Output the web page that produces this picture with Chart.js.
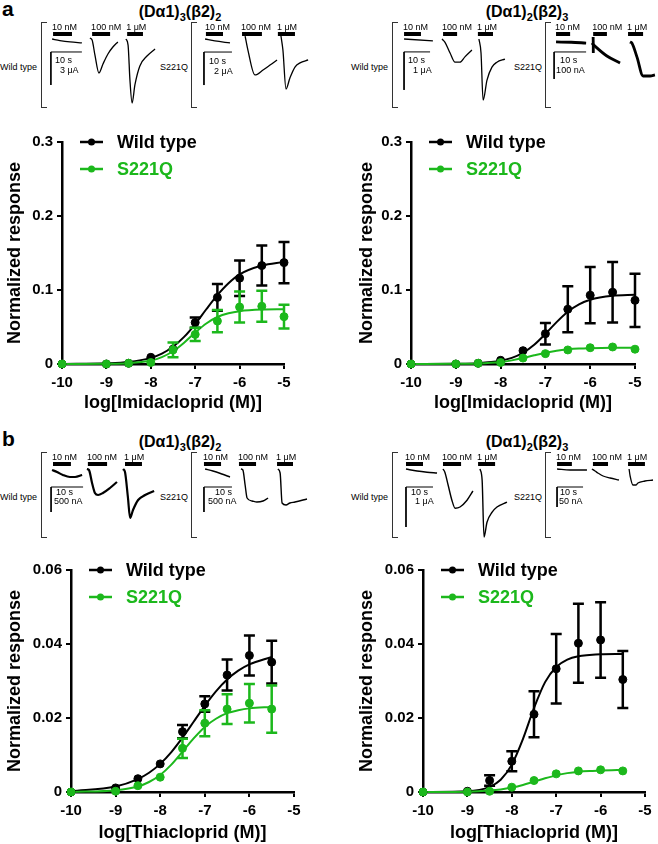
<!DOCTYPE html>
<html>
<head>
<meta charset="utf-8">
<script src="https://cdn.jsdelivr.net/npm/chart.js@4.4.1/dist/chart.umd.min.js"></script>
<style>
  body { margin: 0; width: 658px; height: 844px; position: relative; background: #fff; overflow: hidden;
         font-family: "Liberation Sans", Arial, sans-serif; color: #000; }
  .txt { position: absolute; white-space: nowrap; }
  .panel { font-weight: bold; font-size: 21px; line-height: 22px; }
  .title { font-weight: bold; font-size: 16px; line-height: 18px; width: 200px; text-align: center; }
  .title .sb { font-size: 11px; position: relative; top: 4px; }
  .grp { font-size: 9px; line-height: 12px; width: 60px; text-align: right; }
  .brk { position: absolute; width: 6px; height: 86px; box-sizing: border-box;
         border: 1px solid #333; border-right: none; }
</style>
</head>
<body>
<div class="txt panel" style="left:2px;top:-2px">a</div>
<div class="txt panel" style="left:2px;top:428px">b</div>
<div class="txt title" style="left:80px;top:3px">(Dα1)<span class="sb">3</span>(β2)<span class="sb">2</span></div>
<div class="txt title" style="left:427px;top:3px">(Dα1)<span class="sb">2</span>(β2)<span class="sb">3</span></div>
<div class="txt title" style="left:80px;top:433px">(Dα1)<span class="sb">3</span>(β2)<span class="sb">2</span></div>
<div class="txt title" style="left:427px;top:433px">(Dα1)<span class="sb">2</span>(β2)<span class="sb">3</span></div>

<script>
// dose-response data, log molar concentration
const FONT = '"Liberation Sans", Arial, sans-serif';
const BLACK = "#000000";
const GREEN = "#1cb81c";
const WT_LABEL = "Wild type";
const MUT_LABEL = "S221Q";

// a: imidacloprid
const imiDose = [-10, -9, -8.5, -8, -7.5, -7, -6.5, -6, -5.5, -5];
const imi32Wt = [0, 0, 0.001, 0.009, 0.020, 0.056, 0.090, 0.116, 0.133, 0.137];
const imi32WtErr = [0, 0, 0, 0.001, 0.002, 0.007, 0.018, 0.024, 0.027, 0.028];
const imi32Mut = [0, 0, 0.001, 0.002, 0.019, 0.040, 0.058, 0.077, 0.078, 0.064];
const imi32MutErr = [0, 0, 0, 0.001, 0.010, 0.009, 0.015, 0.021, 0.021, 0.016];
const imi23Wt = [0, 0, 0.001, 0.005, 0.018, 0.041, 0.074, 0.093, 0.097, 0.086];
const imi23WtErr = [0, 0, 0, 0.001, 0.002, 0.0145, 0.031, 0.038, 0.041, 0.036];
const imi23Mut = [0, 0, 0.001, 0.002, 0.008, 0.014, 0.019, 0.022, 0.023, 0.020];
const imi23MutErr = [0, 0, 0, 0, 0.001, 0.001, 0.001, 0.001, 0.001, 0.001];

// fitted curves
const imiFitX = [-10, -9, -8.5, -8, -7.75, -7.5, -7.25, -7, -6.75, -6.5, -6.25, -6, -5.5, -5];
const imi32WtFit = [0.0001, 0.0009, 0.0027, 0.0083, 0.0141, 0.0233, 0.0366, 0.054, 0.074, 0.093, 0.109, 0.121, 0.133, 0.138];
const imi32MutFit = [0, 0.0003, 0.0011, 0.0047, 0.0093, 0.0172, 0.0288, 0.0425, 0.0548, 0.0635, 0.0686, 0.0714, 0.0735, 0.0739];
const imi23WtFit = [0, 0.0003, 0.0011, 0.0043, 0.0082, 0.015, 0.0259, 0.0406, 0.0566, 0.0706, 0.0806, 0.0868, 0.0921, 0.0935];
const imi23MutFit = [0, 0.0002, 0.0008, 0.0028, 0.0049, 0.008, 0.0118, 0.0153, 0.018, 0.0198, 0.0209, 0.0214, 0.0219, 0.022];

// b: thiacloprid
const thiDose = [-10, -9, -8.5, -8, -7.5, -7, -6.5, -6, -5.5];
const thi32Wt = [0, 0.0011, 0.0036, 0.0076, 0.0163, 0.0238, 0.0316, 0.0369, 0.0351];
const thi32WtErr = [0, 0.0003, 0.0004, 0.0006, 0.0018, 0.0021, 0.0042, 0.0054, 0.0058];
const thi32Mut = [0, 0.0002, 0.0017, 0.0040, 0.0118, 0.0186, 0.0224, 0.0240, 0.0224];
const thi32MutErr = [0, 0.0002, 0.0003, 0.0011, 0.0026, 0.0035, 0.0040, 0.0052, 0.0064];
const thi23Wt = [0, 0.0002, 0.0031, 0.0083, 0.0210, 0.0333, 0.0402, 0.0411, 0.0304];
const thi23WtErr = [0, 0, 0.0014, 0.0027, 0.0062, 0.0094, 0.0107, 0.0102, 0.0077];
const thi23Mut = [0, 0, 0.0002, 0.0013, 0.0031, 0.0049, 0.0057, 0.0060, 0.0057];
const thi23MutErr = [0, 0, 0, 0.0002, 0.0002, 0.0002, 0.0002, 0.0002, 0.0002];

const thiFitX = [-10, -9, -8.5, -8.25, -8, -7.75, -7.5, -7.25, -7, -6.75, -6.5, -6.25, -6, -5.5];
const thi32WtFit = [0.0002, 0.0015, 0.0035, 0.0052, 0.0076, 0.0108, 0.0147, 0.019, 0.0233, 0.0272, 0.0304, 0.0328, 0.0345, 0.0365];
const thi32MutFit = [0, 0.0005, 0.0015, 0.0027, 0.0046, 0.0074, 0.0109, 0.0145, 0.0176, 0.0198, 0.0213, 0.0221, 0.0226, 0.023];
const thi23WtFit = [0, 0.0002, 0.0014, 0.0033, 0.0074, 0.0143, 0.0227, 0.0297, 0.0338, 0.0358, 0.0367, 0.037, 0.0372, 0.0373];
const thi23MutFit = [0, 0.0001, 0.0004, 0.0007, 0.0012, 0.0019, 0.0028, 0.0037, 0.0045, 0.0051, 0.0055, 0.0057, 0.0058, 0.006];

// current traces: [time (s), current] per concentration
const concLabels = ["10 nM", "100 nM", "1 μM"];
const trA1 = [
  [[2.3, 0], [4.8, -0.14], [8.1, -0.27], [11.9, -0.36]],
  [[14.5, 0.09], [15.2, -0.09], [16.1, -1.45], [17.4, -3.09], [18.7, -2.27], [20.3, -1.36], [21.9, -0.73], [23.5, -0.27]],
  [[26.1, 0], [26.8, -0.55], [27.4, -3.73], [28.1, -5.82], [29.0, -4.18], [30.6, -2.45], [32.9, -1.55], [35.5, -0.91]],
];
const trA2 = [
  [[3.6, 0], [7.1, -0.12], [12.5, -0.24]],
  [[17.9, 0.18], [18.9, -0.67], [21.4, -2.18], [24.3, -1.88], [26.8, -1.58], [29.3, -1.27]],
  [[30.7, 0.18], [31.4, -0.67], [32.5, -3.03], [33.9, -2.36], [35.7, -1.7], [37.5, -1.45], [40.4, -1.27]],
];
const trA3 = [
  [[3.1, 0], [14.2, -0.05]],
  [[17.7, 0], [18.8, -0.08], [20.8, -0.37], [22.7, -0.61], [24.6, -0.61], [26.5, -0.47], [29.2, -0.29]],
  [[31.9, 0], [32.7, -0.37], [33.5, -1.61], [35.0, -1.08], [36.9, -0.74], [38.8, -0.61], [41.9, -0.53]],
];
const trA4 = [
  [[2.2, -11], [6.9, -12], [11.6, -15]],
  [[13.4, -15], [14.7, -30], [18.1, -63], [22.2, -89]],
  [[13.8, 7], [13.85, -52]],
  [[25.3, -11], [25.9, -15], [27.5, -67], [29.4, -137], [31.6, -137], [33.1, -133]],
];
const trB1 = [
  [[2.2, -20], [3.75, -60], [5.6, -120], [7.8, -160], [9.4, -160], [11.6, -120]],
  [[13.1, 0], [13.75, -20], [14.7, -280], [15.6, -480], [16.6, -520], [18.1, -480], [20.3, -380], [22.5, -260]],
  [[24.4, 0], [25, -60], [25.9, -560], [26.6, -980], [27.5, -820], [29.1, -620], [31.3, -520], [34.1, -440]],
];
const trB2 = [
  [[3.6, 0], [6.4, -40], [9.6, -100], [12.5, -160]],
  [[16.4, 0], [17.1, -20], [17.9, -320], [18.6, -580], [20.4, -640], [22.1, -660], [24.3, -640], [26.1, -580]],
  [[29.6, 0], [30.4, -80], [31.1, -680], [32.5, -720], [33.9, -680], [35.7, -660], [40.0, -600]],
];
const trB3 = [
  [[3.7, 0], [7.8, -0.05], [11.5, -0.08], [15.2, -0.1]],
  [[17.4, 0], [18.1, -0.08], [19.3, -0.4], [20.7, -0.78], [21.9, -0.98], [23.7, -0.95], [26.3, -0.78], [28.5, -0.55]],
  [[31.1, 0], [31.9, -0.28], [32.6, -1.7], [33.7, -1.33], [35.6, -1.08], [37.4, -0.95], [41.1, -0.83]],
];
const trB4 = [
  [[3.1, 0], [8.1, -2.5], [14.6, -2.5]],
  [[16.5, 0], [17.7, -5], [18.8, -10], [20.8, -17.5], [23.5, -22.5], [26.9, -27.5]],
  [[30.8, 0], [31.2, -17.5], [32.3, -40], [33.5, -40], [34.2, -35], [36.9, -30], [40.0, -27.5]],
];
// drug application bars (s)
const barsA1 = [[2.6, 8.7], [15.2, 21.0], [26.5, 31.6]];
const barsA2 = [[3.9, 10.0], [16.8, 23.9], [29.6, 35.7]];
const barsA3 = [[3.1, 9.6], [18.1, 23.5], [31.5, 37.3]];
const barsA4 = [[2.2, 6.6], [13.8, 18.1], [24.7, 29.4]];
const barsB1 = [[2.5, 8.1], [13.4, 19.4], [25.0, 30.3]];
const barsB2 = [[3.2, 9.3], [15.7, 21.8], [29.3, 35.0]];
const barsB3 = [[3.7, 10.0], [17.4, 24.1], [30.4, 36.7]];
const barsB4 = [[3.1, 8.8], [16.9, 22.7], [30.4, 36.9]];

Chart.defaults.font.family = FONT;

function makeCanvas(l, t, w, h) {
  const c = document.createElement("canvas");
  c.width = w; c.height = h;
  c.style.cssText = `position:absolute;left:${l}px;top:${t}px;width:${w}px;height:${h}px`;
  document.body.appendChild(c);
  return c;
}

function addText(html, cls, l, t) {
  const d = document.createElement("div");
  d.className = "txt " + cls;
  d.style.left = l + "px"; d.style.top = t + "px";
  d.innerHTML = html;
  document.body.appendChild(d);
}

// error bars drawn under each point dataset
const errorBars = {
  id: "errorBars",
  beforeDatasetDraw(chart, args) {
    const ds = chart.data.datasets[args.index];
    if (!ds.err) return;
    const { x, y } = chart.scales;
    const ctx = chart.ctx;
    ctx.save();
    ctx.strokeStyle = ds.borderColor;
    ctx.lineWidth = 2.5;
    ds.data.forEach((p, i) => {
      const px = x.getPixelForValue(p.x);
      const top = y.getPixelForValue(p.y + ds.err[i]);
      const bot = y.getPixelForValue(p.y - ds.err[i]);
      if ((bot - top) / 2 < 5) return;
      ctx.beginPath();
      ctx.moveTo(px, top); ctx.lineTo(px, bot);
      ctx.moveTo(px - 5.5, top); ctx.lineTo(px + 5.5, top);
      ctx.moveTo(px - 5.5, bot); ctx.lineTo(px + 5.5, bot);
      ctx.stroke();
    });
    ctx.restore();
  },
};

// legend inside plot, top-left
const innerLegend = {
  id: "innerLegend",
  afterDraw(chart) {
    const { ctx, chartArea } = chart;
    const items = chart.data.datasets.filter(d => d.legendRow !== undefined)
      .sort((a, b) => a.legendRow - b.legendRow);
    ctx.save();
    items.forEach(d => {
      const y = chartArea.top + d.legendRow * 27;
      const x0 = chartArea.left + 18;
      ctx.strokeStyle = d.borderColor;
      ctx.lineWidth = 2.5;
      ctx.beginPath(); ctx.moveTo(x0, y); ctx.lineTo(x0 + 23, y); ctx.stroke();
      ctx.fillStyle = d.borderColor;
      ctx.beginPath(); ctx.arc(x0 + 11.5, y, 3.5, 0, Math.PI * 2); ctx.fill();
      ctx.font = `bold 18px ${FONT}`;
      ctx.textBaseline = "middle";
      ctx.fillText(d.label, x0 + 37, y + 1);
    });
    ctx.restore();
  },
};

function doseChart(p) {
  const cv = makeCanvas(p.left, p.top, p.w, p.h);
  const pts = (xs, ys) => xs.map((x, i) => ({ x, y: ys[i] }));
  const bold = s => ({ family: FONT, size: s, weight: "bold" });
  const markers = { showLine: false, pointRadius: 4, pointBorderWidth: 1, clip: false };
  const curve = { showLine: true, pointRadius: 0, borderWidth: 2, cubicInterpolationMode: "monotone", clip: false };
  new Chart(cv, {
    type: "scatter",
    data: {
      datasets: [
        { ...markers, label: MUT_LABEL, data: pts(p.dose, p.mut), err: p.mutErr, borderColor: GREEN, backgroundColor: GREEN, order: 0, legendRow: 1 },
        { ...markers, label: WT_LABEL, data: pts(p.dose, p.wt), err: p.wtErr, borderColor: BLACK, backgroundColor: BLACK, order: 1, legendRow: 0 },
        { ...curve, data: pts(p.fitX, p.mutFit), borderColor: GREEN, order: 2 },
        { ...curve, data: pts(p.fitX, p.wtFit), borderColor: BLACK, order: 3 },
      ],
    },
    options: {
      responsive: false,
      animation: false,
      events: [],
      devicePixelRatio: 1,
      layout: { padding: { left: 0, top: p.padTop, right: p.padRight, bottom: 0 } },
      plugins: { legend: { display: false }, tooltip: { enabled: false } },
      scales: {
        x: {
          type: "linear", min: -10, max: -5,
          ticks: { stepSize: 1, font: bold(15), color: BLACK, padding: 5, maxRotation: 0, autoSkip: false },
          grid: { drawOnChartArea: false, tickLength: 5, lineWidth: 2, color: BLACK },
          border: { width: 2.5, color: BLACK },
          title: { display: true, text: p.xTitle, font: bold(18), color: BLACK, padding: { top: 0, bottom: p.titlePadB } },
          afterFit: s => { s.height = p.xH; },
        },
        y: {
          type: "linear", min: 0, max: p.yMax,
          ticks: { stepSize: p.yStep, font: bold(15), color: BLACK, padding: 4 },
          grid: { drawOnChartArea: false, tickLength: 5, lineWidth: 2, color: BLACK },
          border: { width: 2.5, color: BLACK },
          title: { display: true, text: "Normalized response", font: bold(18), color: BLACK, padding: { top: 4, bottom: 0 } },
          afterFit: s => { s.width = p.yW; },
        },
      },
    },
    plugins: [errorBars, innerLegend],
  });
}

// small current-trace inset: traces, application bars, scale bar
function insetChart(p) {
  const W = 118, H = 92, BASE = 19;
  const cv = makeCanvas(p.left, p.top, W, H);
  const datasets = p.traces.map(tr => ({
    data: tr.map(([x, y]) => ({ x, y })), showLine: true, pointRadius: 0,
    borderColor: BLACK, borderWidth: p.lw, cubicInterpolationMode: "monotone", clip: false,
  }));
  const [cx, cy] = p.corner;
  datasets.push({
    data: [{ x: cx + 10, y: cy }, { x: cx, y: cy }, { x: cx, y: cy - p.size }],
    showLine: true, pointRadius: 0, borderColor: BLACK, borderWidth: 1, tension: 0, clip: false,
  });
  const marks = {
    id: "insetMarks",
    afterDraw(chart) {
      const { ctx } = chart;
      const { x, y } = chart.scales;
      const yBar = y.getPixelForValue(0) - 5;
      ctx.save();
      ctx.fillStyle = BLACK; ctx.strokeStyle = BLACK;
      ctx.font = `9px ${FONT}`;
      ctx.textBaseline = "middle";
      p.bars.forEach(([t0, t1], i) => {
        const x0 = x.getPixelForValue(t0), x1 = x.getPixelForValue(t1);
        ctx.fillRect(x0, yBar - 2, x1 - x0, 4);
        ctx.fillText(concLabels[i], x0 - 1, yBar - 6);
      });
      const px = x.getPixelForValue(cx), py = y.getPixelForValue(cy);
      ctx.fillText("10 s", px + p.dx[0], py + p.dy[0]);
      ctx.fillText(p.unit, px + p.dx[1], py + p.dy[1]);
      ctx.restore();
    },
  };
  new Chart(cv, {
    type: "scatter",
    data: { datasets },
    options: {
      responsive: false, animation: false, events: [], devicePixelRatio: 1,
      layout: { padding: 0 },
      plugins: { legend: { display: false }, tooltip: { enabled: false } },
      scales: {
        x: { display: false, min: 0, max: W / p.pxs },
        y: { display: false, min: -(H - BASE) / p.pxu, max: BASE / p.pxu },
      },
    },
    plugins: [marks],
  });
}

function group(bx, top, name) {
  const b = document.createElement("div");
  b.className = "brk";
  b.style.left = bx + "px"; b.style.top = (top + 2) + "px";
  document.body.appendChild(b);
  addText(name, "grp", bx - (name === WT_LABEL ? 64 : 63), top + 41);
}

group(41, 20, WT_LABEL); group(191, 20, MUT_LABEL);
group(392, 20, WT_LABEL); group(545, 20, MUT_LABEL);
group(41, 450, WT_LABEL); group(191, 450, MUT_LABEL);
group(392, 450, WT_LABEL); group(545, 450, MUT_LABEL);

const rowA = { dy: [9, 19] }, rowB = { dy: [6, 15] };
insetChart({ ...rowA, left: 45, top: 20, pxs: 3.1, pxu: 11, traces: trA1, bars: barsA1, corner: [1.9, -1.18], size: 3, unit: "3 μA", dx: [4, 9], lw: 1.3 });
insetChart({ ...rowA, left: 195, top: 20, pxs: 2.8, pxu: 16.5, traces: trA2, bars: barsA2, corner: [3.2, -0.79], size: 2, unit: "2 μA", dx: [5, 10], lw: 1.3 });
insetChart({ ...rowA, left: 396, top: 20, pxs: 2.6, pxu: 38, traces: trA3, bars: barsA3, corner: [3.1, -0.34], size: 1, unit: "1 μA", dx: [4, 9], lw: 1.3 });
insetChart({ ...rowA, left: 549, top: 20, pxs: 3.2, pxu: 0.27, traces: trA4, bars: barsA4, corner: [1.6, -48], size: 100, unit: "100 nA", dx: [6, 2], lw: 2.8 });
insetChart({ ...rowB, left: 45, top: 450, pxs: 3.2, pxu: 0.05, traces: trB1, bars: barsB1, corner: [1.9, -360], size: 500, unit: "500 nA", dx: [5, 3], lw: 2.2 });
insetChart({ ...rowB, left: 195, top: 450, pxs: 2.8, pxu: 0.05, traces: trB2, bars: barsB2, corner: [3.2, -360], size: 500, unit: "500 nA", dx: [11, 4], lw: 1.4 });
insetChart({ ...rowB, left: 396, top: 450, pxs: 2.7, pxu: 40, traces: trB3, bars: barsB3, corner: [3.7, -0.45], size: 1, unit: "1 μA", dx: [5, 9], lw: 1.4 });
insetChart({ ...rowB, left: 549, top: 450, pxs: 2.6, pxu: 0.4, traces: trB4, bars: barsB4, corner: [3.1, -45], size: 50, unit: "50 nA", dx: [3, 2], lw: 1.3 });

const rowAOpts = { top: 120, h: 298, padTop: 22, xH: 54, titlePadB: 4, yMax: 0.3, yStep: 0.1, xTitle: "log[Imidacloprid (M)]", dose: imiDose, fitX: imiFitX };
const rowBOpts = { top: 550, h: 294, padTop: 20, xH: 52, titlePadB: 0, yMax: 0.06, yStep: 0.02, xTitle: "log[Thiacloprid (M)]", dose: thiDose, fitX: thiFitX };

doseChart({ ...rowAOpts, left: 0, w: 300, padRight: 16, yW: 62,
  wt: imi32Wt, wtErr: imi32WtErr, mut: imi32Mut, mutErr: imi32MutErr, wtFit: imi32WtFit, mutFit: imi32MutFit });
doseChart({ ...rowAOpts, left: 352, w: 306, padRight: 23, yW: 59,
  wt: imi23Wt, wtErr: imi23WtErr, mut: imi23Mut, mutErr: imi23MutErr, wtFit: imi23WtFit, mutFit: imi23MutFit });
doseChart({ ...rowBOpts, left: 0, w: 320, padRight: 26, yW: 71,
  wt: thi32Wt, wtErr: thi32WtErr, mut: thi32Mut, mutErr: thi32MutErr, wtFit: thi32WtFit, mutFit: thi32MutFit });
doseChart({ ...rowBOpts, left: 352, w: 306, padRight: 13, yW: 71,
  wt: thi23Wt, wtErr: thi23WtErr, mut: thi23Mut, mutErr: thi23MutErr, wtFit: thi23WtFit, mutFit: thi23MutFit });
</script>
</body>
</html>
